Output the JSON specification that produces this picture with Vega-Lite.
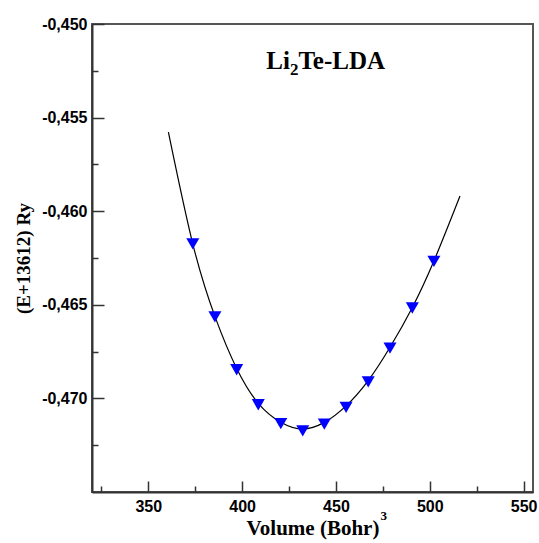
{
  "$schema": "https://vega.github.io/schema/vega-lite/v6.json",
  "width": 441,
  "height": 468,
  "padding": {"left": 14, "top": 16, "right": 5, "bottom": 5},
  "background": "white",
  "config": {
    "view": {"stroke": "#555", "strokeWidth": 2},
    "axis": {"grid": false}
  },
  "datasets": {
    "points": [
      {"volume": 373.7, "energy": -0.46174},
      {"volume": 385.5, "energy": -0.46565},
      {"volume": 397.1, "energy": -0.46847},
      {"volume": 408.6, "energy": -0.47034},
      {"volume": 420.6, "energy": -0.47135},
      {"volume": 432.3, "energy": -0.47174},
      {"volume": 443.8, "energy": -0.47137},
      {"volume": 455.4, "energy": -0.47048},
      {"volume": 467.2, "energy": -0.46912},
      {"volume": 478.8, "energy": -0.46731},
      {"volume": 490.7, "energy": -0.46517},
      {"volume": 502.2, "energy": -0.46268}
    ],
    "curve": [
      {"volume": 360.7, "energy": -0.45577},
      {"volume": 373.7, "energy": -0.46174},
      {"volume": 385.5, "energy": -0.46562},
      {"volume": 397.1, "energy": -0.46840},
      {"volume": 408.6, "energy": -0.47026},
      {"volume": 420.6, "energy": -0.47127},
      {"volume": 432.3, "energy": -0.47163},
      {"volume": 443.8, "energy": -0.47128},
      {"volume": 455.4, "energy": -0.47040},
      {"volume": 467.2, "energy": -0.46905},
      {"volume": 478.8, "energy": -0.46727},
      {"volume": 490.7, "energy": -0.46514},
      {"volume": 502.2, "energy": -0.46266},
      {"volume": 516.1, "energy": -0.45919}
    ],
    "label": [
      {"volume": 425.5, "energy": -0.4524}
    ],
    "sup": [
      {"volume": 473.8, "energy": -0.47652}
    ]
  },
  "layer": [
    {
      "data": {"name": "curve"},
      "mark": {"type": "line", "interpolate": "natural", "color": "black", "strokeWidth": 1.2},
      "encoding": {
        "x": {
          "field": "volume", "type": "quantitative",
          "scale": {"domain": [320, 555], "nice": false, "zero": false},
          "axis": {"orient": "bottom", "values": [350, 400, 450, 500, 550], "labels": false, "domain": false, "title": null, "tickSize": 11, "offset": -11, "tickColor": "#333", "tickWidth": 1.5}
        },
        "y": {
          "field": "energy", "type": "quantitative",
          "scale": {"domain": [-0.475, -0.45], "nice": false, "zero": false},
          "axis": {"orient": "left", "values": [-0.45, -0.455, -0.46, -0.465, -0.47], "labels": false, "domain": false, "title": null, "tickSize": 12, "offset": -12, "tickColor": "#333", "tickWidth": 1.5}
        }
      }
    },
    {
      "data": {"name": "points"},
      "mark": {"type": "point", "shape": "triangle-down", "filled": true, "color": "#0000ff", "opacity": 1, "size": 170},
      "encoding": {
        "x": {
          "field": "volume", "type": "quantitative",
          "axis": {"orient": "bottom", "values": [350, 400, 450, 500, 550], "ticks": false, "domain": true, "domainColor": "#333", "domainWidth": 2, "format": "d", "labelFont": "Liberation Sans", "labelFontWeight": "bold", "labelFontSize": 16, "labelColor": "black", "labelPadding": 6,
            "title": "Volume (Bohr)", "titleFont": "Liberation Serif", "titleFontSize": 21, "titleFontWeight": "bold", "titleColor": "black", "titlePadding": 3}
        },
        "y": {
          "field": "energy", "type": "quantitative",
          "axis": {"orient": "left", "values": [-0.45, -0.455, -0.46, -0.465, -0.47], "ticks": false, "domain": true, "domainColor": "#333", "domainWidth": 2, "labelExpr": "replace(replace(format(datum.value, '.3f'), '.', ','), '\u2212', '-')", "labelFont": "Liberation Sans", "labelFontWeight": "bold", "labelFontSize": 16, "labelColor": "black", "labelPadding": 5,
            "title": "(E+13612) Ry", "titleFont": "Liberation Serif", "titleFontSize": 19, "titleFontWeight": "bold", "titleColor": "black", "titlePadding": 8}
        }
      }
    },
    {
      "data": {"name": "label"},
      "mark": {"type": "text", "text": "Li", "align": "right", "baseline": "alphabetic", "font": "Liberation Serif", "fontSize": 25, "fontWeight": "bold", "color": "black"},
      "encoding": {
        "x": {"field": "volume", "type": "quantitative", "axis": {"orient": "bottom", "values": [325, 375, 425, 475, 525], "labels": false, "domain": false, "title": null, "tickSize": 6, "offset": -6, "tickColor": "#333", "tickWidth": 1.5}},
        "y": {"field": "energy", "type": "quantitative", "axis": {"orient": "left", "values": [-0.4525, -0.4575, -0.4625, -0.4675, -0.4725], "labels": false, "domain": false, "title": null, "tickSize": 6, "offset": -6, "tickColor": "#333", "tickWidth": 1.5}}
      }
    },
    {
      "data": {"name": "label"},
      "mark": {"type": "text", "text": "2", "align": "left", "baseline": "alphabetic", "dy": 6, "font": "Liberation Serif", "fontSize": 17, "fontWeight": "bold", "color": "black"},
      "encoding": {
        "x": {"field": "volume", "type": "quantitative", "axis": null},
        "y": {"field": "energy", "type": "quantitative", "axis": null}
      }
    },
    {
      "data": {"name": "label"},
      "mark": {"type": "text", "text": "Te-LDA", "align": "left", "baseline": "alphabetic", "dx": 8.5, "font": "Liberation Serif", "fontSize": 25, "fontWeight": "bold", "color": "black"},
      "encoding": {
        "x": {"field": "volume", "type": "quantitative", "axis": null},
        "y": {"field": "energy", "type": "quantitative", "axis": null}
      }
    },
    {
      "data": {"name": "sup"},
      "mark": {"type": "text", "text": "3", "align": "left", "baseline": "alphabetic", "font": "Liberation Serif", "fontSize": 13, "fontWeight": "bold", "color": "black"},
      "encoding": {
        "x": {"field": "volume", "type": "quantitative", "axis": null},
        "y": {"field": "energy", "type": "quantitative", "axis": null}
      }
    }
  ],
  "resolve": {"axis": {"x": "independent", "y": "independent"}}
}
